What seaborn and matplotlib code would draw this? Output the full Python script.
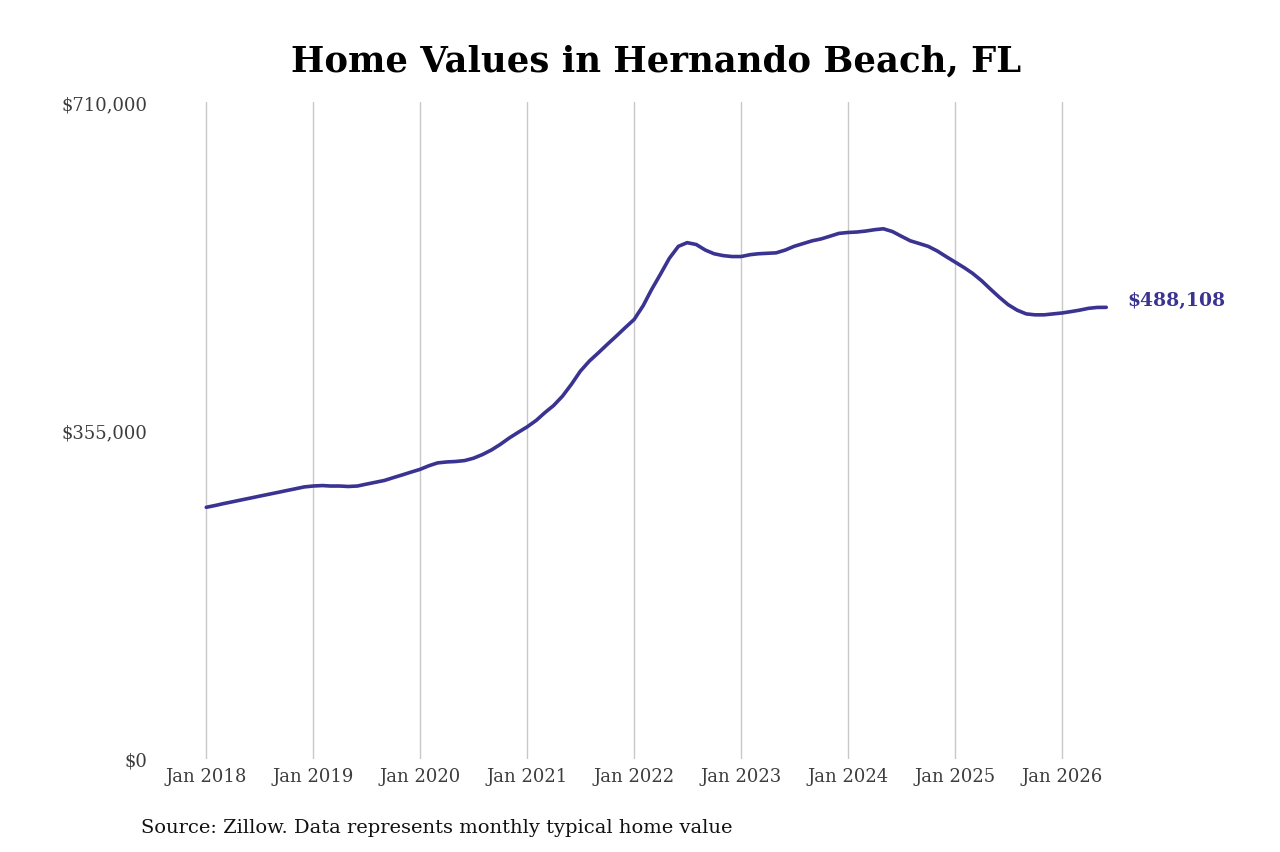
import numpy as np
import pandas as pd
import matplotlib
matplotlib.use('Agg')
import matplotlib.pyplot as plt
import matplotlib.dates as mdates
import matplotlib.ticker as mticker
import seaborn as sns

# 月度典型房价（千美元），2018年1月至2026年6月
values_2018 = [272, 274, 276, 278, 280, 282, 284, 286, 288, 290, 292, 294]
values_2019 = [295, 295.5, 295, 295, 294.5, 295, 297, 299, 301, 304, 307, 310]
values_2020 = [313, 317, 320, 321, 321.5, 322.5, 325, 329, 334, 340, 347, 353]
values_2021 = [359, 366, 374, 382, 392, 405, 419, 430, 439, 448, 457, 466]
values_2022 = [475, 490, 507, 524, 541, 554, 558, 556, 550, 546, 544, 543]
values_2023 = [543, 545, 546, 546.5, 547, 550, 554, 557, 560, 562, 565, 568]
values_2024 = [569, 569.5, 570.5, 572, 573, 570, 565, 560, 557, 554, 549, 543]
values_2025 = [537, 531, 525, 517, 508, 499, 491, 485, 481, 480, 480, 481]
values_2026 = [482, 483.5, 485, 487, 488, 488.108]

home_values = (values_2018 + values_2019 + values_2020 + values_2021 + values_2022
               + values_2023 + values_2024 + values_2025 + values_2026)
months = pd.date_range('2018-01-01', periods=len(home_values), freq='MS')

y_ticks = [0, 355000, 710000]
x_tick_years = list(range(2018, 2027))

title = 'Home Values in Hernando Beach, FL'
source = 'Source: Zillow. Data represents monthly typical home value'
line_color = '#3a3391'

df = pd.DataFrame({'date': months, 'value': np.array(home_values) * 1000})

sns.set_theme(style='white')
plt.rcParams['font.family'] = ['DejaVu Serif']

fig = plt.figure(figsize=(12.8, 8.53), dpi=100)
ax = fig.add_axes([160 / 1280, 1 - 760 / 853, 960 / 1280, 657 / 853])

sns.lineplot(data=df, x='date', y='value', color=line_color, linewidth=2.6, ax=ax)

ax.set_xlim(pd.Timestamp('2017-07-27'), pd.Timestamp('2026-07-18'))
ax.set_ylim(0, 710000)

ax.set_xticks([pd.Timestamp(f'{y}-01-01') for y in x_tick_years])
ax.xaxis.set_major_formatter(mdates.DateFormatter('%b %Y'))
ax.set_yticks(y_ticks)
ax.yaxis.set_major_formatter(mticker.FuncFormatter(lambda v, p: f'${v:,.0f}'))

ax.tick_params(axis='both', length=0, labelsize=13, colors='#3d3d3d')
ax.tick_params(axis='x', pad=6)
ax.tick_params(axis='y', pad=9)
ax.grid(axis='x', color='#c8c8c8', linewidth=1)
ax.grid(axis='y', visible=False)
for s in ax.spines.values():
    s.set_visible(False)
ax.set_xlabel('')
ax.set_ylabel('')

# 末端数值标签
last = df.iloc[-1]
ax.annotate(f'${last["value"]:,.0f}', xy=(last['date'], last['value']),
            xytext=(15, 5), textcoords='offset points', va='center', ha='left',
            fontsize=13.5, fontweight='bold', color=line_color, annotation_clip=False)

fig.text(656 / 1280, 1 - 62 / 853, title, ha='center', va='center',
         fontsize=25.5, fontweight='bold', color='black')
fig.text(141 / 1280, 1 - 828 / 853, source, ha='left', va='center',
         fontsize=14, color='#111111')

fig.savefig('out.png', dpi=100)
